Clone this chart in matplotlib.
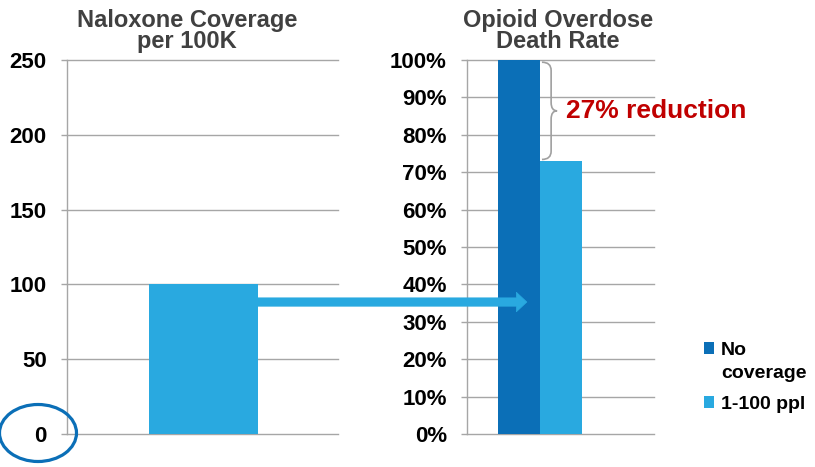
import matplotlib.pyplot as plt
from matplotlib.patches import ConnectionPatch, Ellipse, PathPatch, Rectangle
from matplotlib.path import Path
from matplotlib.legend_handler import HandlerPatch

plt.rcParams['font.family'] = ['Liberation Sans', 'DejaVu Sans']
plt.rcParams['font.weight'] = 'bold'

# naloxone coverage (per 100K)
coverage_cats = ['1-100 ppl']
coverage_vals = [100]
coverage_ticks = [0, 50, 100, 150, 200, 250]

# relative overdose death rate (%)
death_labels = ['No\ncoverage', '1-100 ppl']
death_vals = [100, 73]
death_ticks = list(range(0, 101, 10))

dark_blue = '#0B6FB7'
light_blue = '#29A9E0'
grid_col = '#A6A6A6'
title_col = '#404040'

fig = plt.figure(figsize=(8.15, 4.67), dpi=100)
ax1 = fig.add_axes([0.0822, 0.0707, 0.3325, 0.8009])
ax2 = fig.add_axes([0.5730, 0.0707, 0.2294, 0.8009])

for ax in (ax1, ax2):
    for s in ['top', 'right', 'bottom']:
        ax.spines[s].set_visible(False)
    ax.spines['left'].set_color(grid_col)
    ax.spines['left'].set_linewidth(1.0)
    ax.yaxis.grid(True, color=grid_col, linewidth=1.0)
    ax.set_axisbelow(True)
    ax.set_xticks([])
    ax.tick_params(axis='y', length=4.5, width=1.0, color=grid_col, pad=10,
                   labelsize=16, labelcolor='black')

# left panel
ax1.bar(0, coverage_vals[0], width=0.40, color=light_blue, zorder=3)
ax1.set_xlim(-0.504, 0.496)
ax1.set_ylim(0, 250)
ax1.set_yticks(coverage_ticks)
ax1.set_title('Naloxone Coverage\nper 100K', x=0.443, pad=8.5, fontsize=17,
              fontweight='bold', color=title_col, linespacing=0.92)

# right panel
w = 0.225
b1 = ax2.bar(-w / 2, death_vals[0], width=w, color=dark_blue, zorder=3, label=death_labels[0])
b2 = ax2.bar(w / 2, death_vals[1], width=w, color=light_blue, zorder=3, label=death_labels[1])
ax2.set_xlim(-0.39, 0.61)
ax2.set_ylim(0, 100)
ax2.set_yticks(death_ticks)
ax2.set_yticklabels([f'{t}%' for t in death_ticks])
ax2.set_title('Opioid Overdose\nDeath Rate', x=0.487, pad=8.5, fontsize=17,
              fontweight='bold', color=title_col, linespacing=0.92)

for ax in (ax1, ax2):
    for gl in ax.get_ygridlines():
        gl.set_clip_on(False)

# curly brace between the two bar tops
top, bot = death_vals[0] - 0.6, death_vals[1] + 0.4
mid = (top + bot) / 2
x0, x1, x2 = 0.011, 0.060, 0.092
r = 2.2
verts = [(x0, top), (x1, top), (x1, top - r), (x1, top - r),
         (x1, mid + r), (x1, mid), (x2, mid),
         (x1, mid), (x1, mid - r), (x1, mid - r),
         (x1, bot + r), (x1, bot), (x0, bot)]
codes = [Path.MOVETO, Path.CURVE3, Path.CURVE3, Path.LINETO,
         Path.LINETO, Path.CURVE3, Path.CURVE3,
         Path.CURVE3, Path.CURVE3, Path.LINETO,
         Path.LINETO, Path.CURVE3, Path.CURVE3]
brace = PathPatch(Path(verts, codes), fill=False, edgecolor='#A0A0A0', linewidth=1.2,
                  clip_on=False, zorder=4)
ax2.add_patch(brace)
ax2.text(0.139, mid, f'{death_vals[0] - death_vals[1]}% reduction', color='#C00000',
         fontsize=19, fontweight='bold', ha='left', va='center', clip_on=False)

# arrow from the coverage bar to the death rate bars
arrow_y = 88.2
con = ConnectionPatch(xyA=(0.19, arrow_y), coordsA='data', axesA=ax1,
                      xyB=(-0.07, arrow_y / 250 * 100), coordsB='data', axesB=ax2,
                      arrowstyle='simple,tail_width=0.6,head_width=1.4,head_length=0.75',
                      mutation_scale=10, fc=light_blue, ec=light_blue, linewidth=0.5,
                      shrinkA=0, shrinkB=0, zorder=5)
fig.add_artist(con)


# legend: square of the two-line entry sits next to its first line
def first_line_square(legend, orig_handle, xdescent, ydescent, width, height, fontsize):
    return Rectangle((-xdescent, -ydescent + 0.72 * fontsize), width, height)


leg = ax2.legend(handles=[b1.patches[0], b2.patches[0]], labels=death_labels,
                 handler_map={b1.patches[0]: HandlerPatch(patch_func=first_line_square)},
                 loc='upper left', bbox_to_anchor=(1.266, 0.245),
                 frameon=False, fontsize=14, handlelength=0.55, handleheight=0.55,
                 handletextpad=0.35, labelspacing=0.7, borderaxespad=0, borderpad=0)
leg.get_texts()[0].set_linespacing(1.45)

# highlight around the zero tick label
fig.add_artist(Ellipse((0.38, 0.34), 0.77, 0.57, transform=fig.dpi_scale_trans,
                       fill=False, edgecolor=dark_blue, linewidth=2.3))

fig.savefig('out.png', dpi=100)
